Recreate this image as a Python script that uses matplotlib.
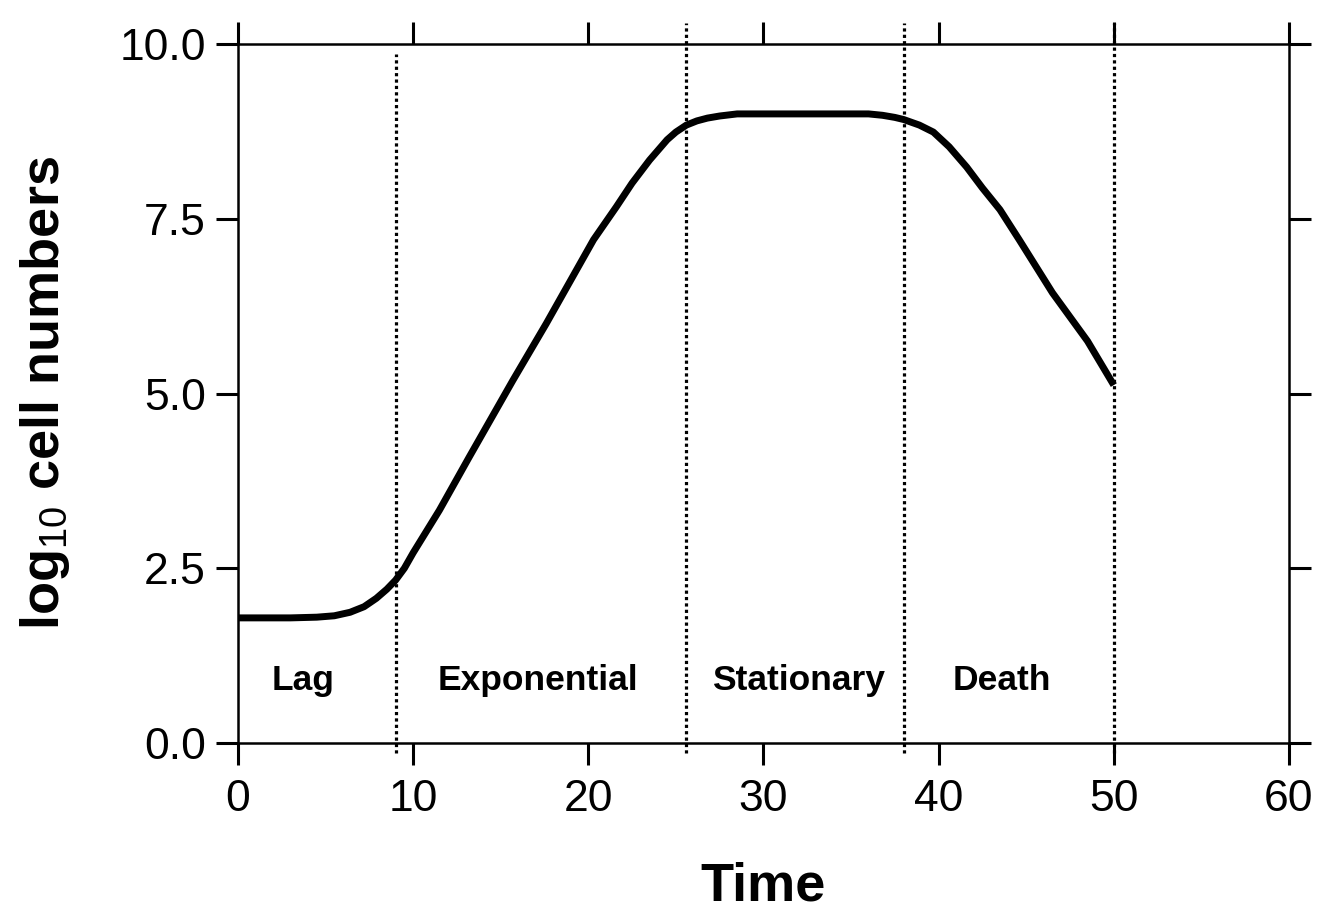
import matplotlib
matplotlib.use("Agg")
import matplotlib.pyplot as plt

plt.rcParams['font.family'] = ['Liberation Sans', 'DejaVu Sans']
plt.rcParams['mathtext.fontset'] = 'custom'
plt.rcParams['mathtext.rm'] = 'Liberation Sans'

# curve
time = [0, 3, 4.5, 5.5, 6.4, 7.2, 7.9, 8.5, 9.0, 9.5, 10.0, 11.5, 13.2, 15.7,
        17.6, 20.3, 21.6, 22.5, 23.5, 24.5, 25.0, 25.6, 26.2, 26.8, 27.5,
        28.5, 32, 36.0, 36.8, 37.5, 38.0, 38.9, 39.7, 40.6, 41.6, 42.5,
        43.5, 44.6, 46.5, 48.5, 50.0]
log_cells = [1.79, 1.79, 1.80, 1.82, 1.87, 1.95, 2.07, 2.20, 2.33, 2.50, 2.72,
             3.33, 4.09, 5.19, 6.0, 7.2, 7.67, 8.01, 8.34, 8.63, 8.74, 8.84,
             8.90, 8.94, 8.97, 9.0, 9.0, 9.0, 8.98, 8.95, 8.92, 8.84, 8.74,
             8.53, 8.24, 7.94, 7.63, 7.20, 6.44, 5.75, 5.12]

# phase boundaries and names
boundaries = [9.0, 25.6, 38.0, 50.0]
boundary_tops = [9.85, 10.3, 10.3, 10.3]
phases = ["Lag", "Exponential", "Stationary", "Death"]
phase_x = [3.7, 17.1, 32.0, 43.6]

xticks = [0, 10, 20, 30, 40, 50, 60]
yticks = [0.0, 2.5, 5.0, 7.5, 10.0]

fig = plt.figure(figsize=(13.22, 9.13), dpi=100)
ax = fig.add_axes([0.180, 0.1862, 0.795, 0.7656])

ax.plot(time, log_cells, color='black', lw=5, solid_capstyle='butt',
        solid_joinstyle='round', zorder=3)

for b, top in zip(boundaries, boundary_tops):
    ax.vlines(b, -0.15, top, colors='black', lw=2.3, linestyles=(0, (1.0, 1.0)),
              clip_on=False, zorder=2)

for name, px in zip(phases, phase_x):
    ax.text(px, 0.9, name, ha='center', va='center', fontsize=25.5, fontweight='bold')

ax.set_xlim(0, 60)
ax.set_ylim(0, 10)
ax.set_xticks(xticks)
ax.set_yticks(yticks)
ax.set_yticklabels([f"{v:.1f}" for v in yticks])

ax.tick_params(axis='both', which='both', direction='out', length=16, width=2.2,
               top=True, right=True, labelsize=32, colors='black')
ax.tick_params(axis='x', pad=10)
ax.tick_params(axis='y', pad=7)
for s in ax.spines.values():
    s.set_linewidth(1.8)

ax.set_xlabel("Time", fontsize=39, fontweight='bold', labelpad=30)
ax.set_ylabel(r"log$_{\mathrm{10}}$ cell numbers", fontsize=39, fontweight='bold',
              labelpad=34)

fig.savefig("out.png", dpi=100)
